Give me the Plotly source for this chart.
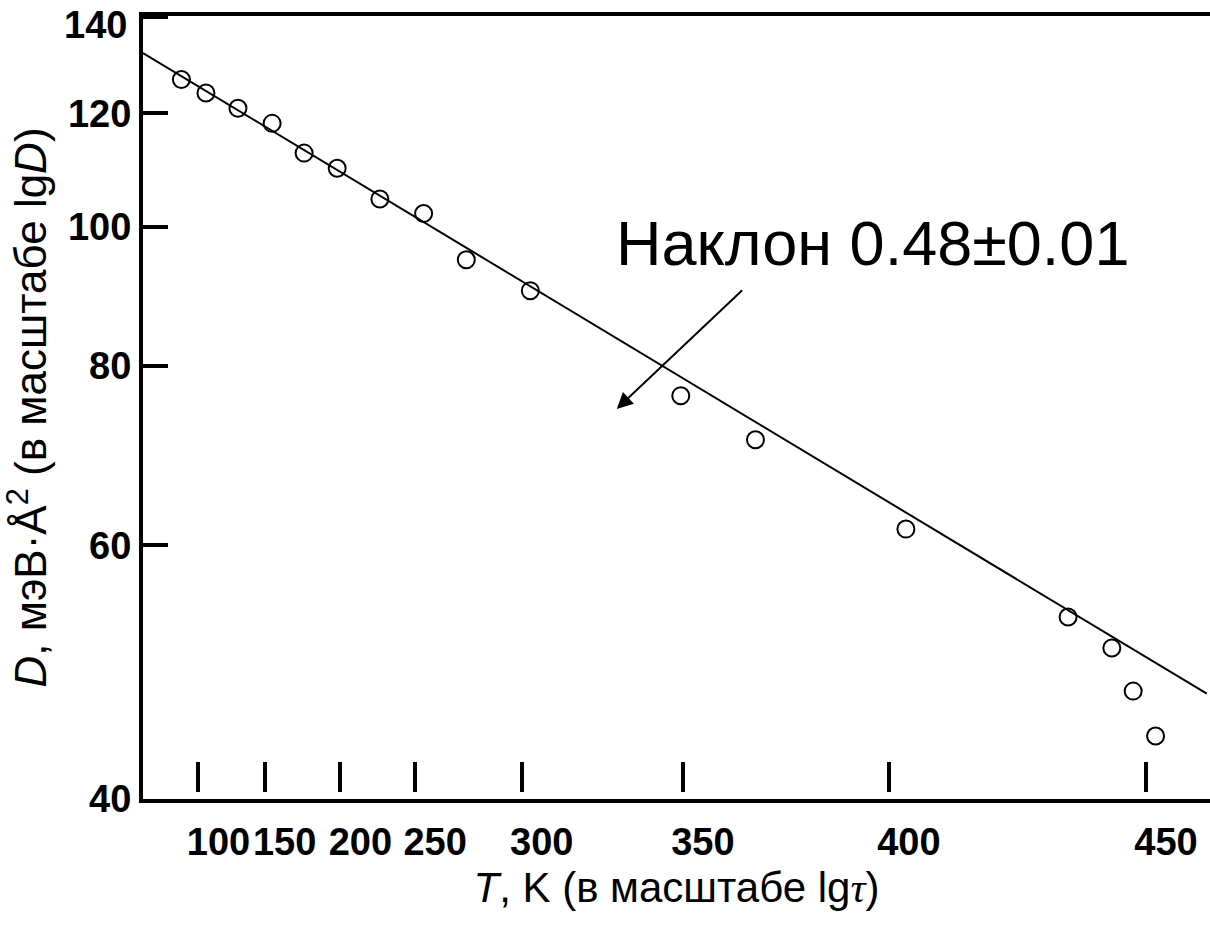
import plotly.graph_objects as go
import math

# ---- data (x in lg(tau) units, labelled by temperature T) ----
T_tick_labels = ["100", "150", "200", "250", "300", "350", "400", "450"]
lgtau_ticks = [0.52, 1.14, 1.85, 2.55, 3.55, 5.06, 6.99, 9.40]

lgtau_points = [0.36, 0.59, 0.89, 1.21, 1.51, 1.82, 2.22, 2.63, 3.03, 3.63,
                5.04, 5.74, 7.15, 8.67, 9.08, 9.28, 9.49]
D_points = [126.7, 124.0, 121.0, 118.1, 112.6, 109.9, 104.6, 102.2, 94.9, 90.3,
            76.3, 71.1, 61.6, 53.5, 50.9, 47.5, 44.2]

fit_lgtau = [0.0, 9.97]
fit_D = [132.2, 47.3]

D_ticks = [40, 60, 80, 100, 120, 140]
D_tick_labels = ["40", "60", "80", "100", "120", "140"]

x_range = [0, 10]
y_range = [math.log10(39.95), math.log10(140.3)]

FONT = "Liberation Sans, Arial, sans-serif"
TICKFONT = dict(family=FONT, size=38, weight="bold", color="black")

fig = go.Figure()

fig.add_trace(go.Scatter(
    x=fit_lgtau, y=fit_D, mode="lines",
    line=dict(color="black", width=2),
    showlegend=False, hoverinfo="skip",
))
fig.add_trace(go.Scatter(
    x=lgtau_points, y=D_points, mode="markers",
    marker=dict(symbol="circle-open", size=17, color="black",
                line=dict(color="black", width=2)),
    showlegend=False,
))
# invisible trace so that the floating tick axis (x2) is drawn
fig.add_trace(go.Scatter(
    x=[lgtau_ticks[0]], y=[D_points[0]], xaxis="x2", yaxis="y",
    mode="markers", marker=dict(opacity=0), showlegend=False, hoverinfo="skip",
))

# top y label sits just below the frame line (as in the original figure)
y_ticktext = D_tick_labels[:-1] + [""]
fig.add_annotation(
    x=0, xref="paper", y=math.log10(D_ticks[-1]), yref="y",
    text=D_tick_labels[-1], showarrow=False, font=TICKFONT,
    xanchor="right", yanchor="middle", xshift=-14, yshift=-8,
)

# slope annotation text
fig.add_annotation(
    x=6.84, y=1.9889, xref="x", yref="y",
    text="Наклон 0.48±0.01", showarrow=False,
    font=dict(family=FONT, size=63, color="black"),
    xanchor="center", yanchor="middle",
)
# arrow
fig.add_annotation(
    x=4.44, y=1.8733, xref="x", yref="y",
    ax=5.63, ay=1.9569, axref="x", ayref="y",
    text="", showarrow=True, arrowhead=2, arrowsize=1.6, arrowwidth=2,
    arrowcolor="black",
)

fig.update_layout(
    width=1210, height=928,
    margin=dict(l=143, r=0, t=16, b=129),
    paper_bgcolor="white", plot_bgcolor="white",
    font=dict(family=FONT, color="black"),
    xaxis=dict(
        range=x_range, tickmode="array", tickvals=lgtau_ticks,
        ticktext=T_tick_labels, ticks="", showgrid=False, zeroline=False,
        showline=True, linecolor="black", linewidth=4, mirror=True,
        tickangle=0, ticklabelshift=20, ticklabelstandoff=6,
        ticklabeloverflow="allow",
        tickfont=TICKFONT,
        title=dict(
            text="<i>T</i>, K (в масштабе lg<span style='font-family:Liberation Serif, serif'><i>τ</i></span>)",
            font=dict(family=FONT, size=42, color="black"), standoff=12),
        automargin=False,
    ),
    xaxis2=dict(
        range=x_range, overlaying="x", anchor="free", position=0.009,
        side="bottom", tickmode="array", tickvals=lgtau_ticks,
        ticks="inside", ticklen=30, tickwidth=4, tickcolor="black",
        showticklabels=False, showline=False, showgrid=False, zeroline=False,
        automargin=False,
    ),
    yaxis=dict(
        type="log", range=y_range, tickmode="array", tickvals=D_ticks,
        ticktext=y_ticktext, ticks="inside", ticklen=25, tickwidth=4,
        tickcolor="black", showgrid=False, zeroline=False,
        showline=True, linecolor="black", linewidth=4,
        ticklabelstandoff=0, ticklabeloverflow="allow",
        tickfont=TICKFONT,
        title=dict(
            text="<i>D</i>, мэВ·Å<sup>2</sup> (в масштабе lg<i>D</i>)",
            font=dict(family=FONT, size=44, color="black"), standoff=10),
        automargin=False,
    ),
)

fig.write_html("out.html")
